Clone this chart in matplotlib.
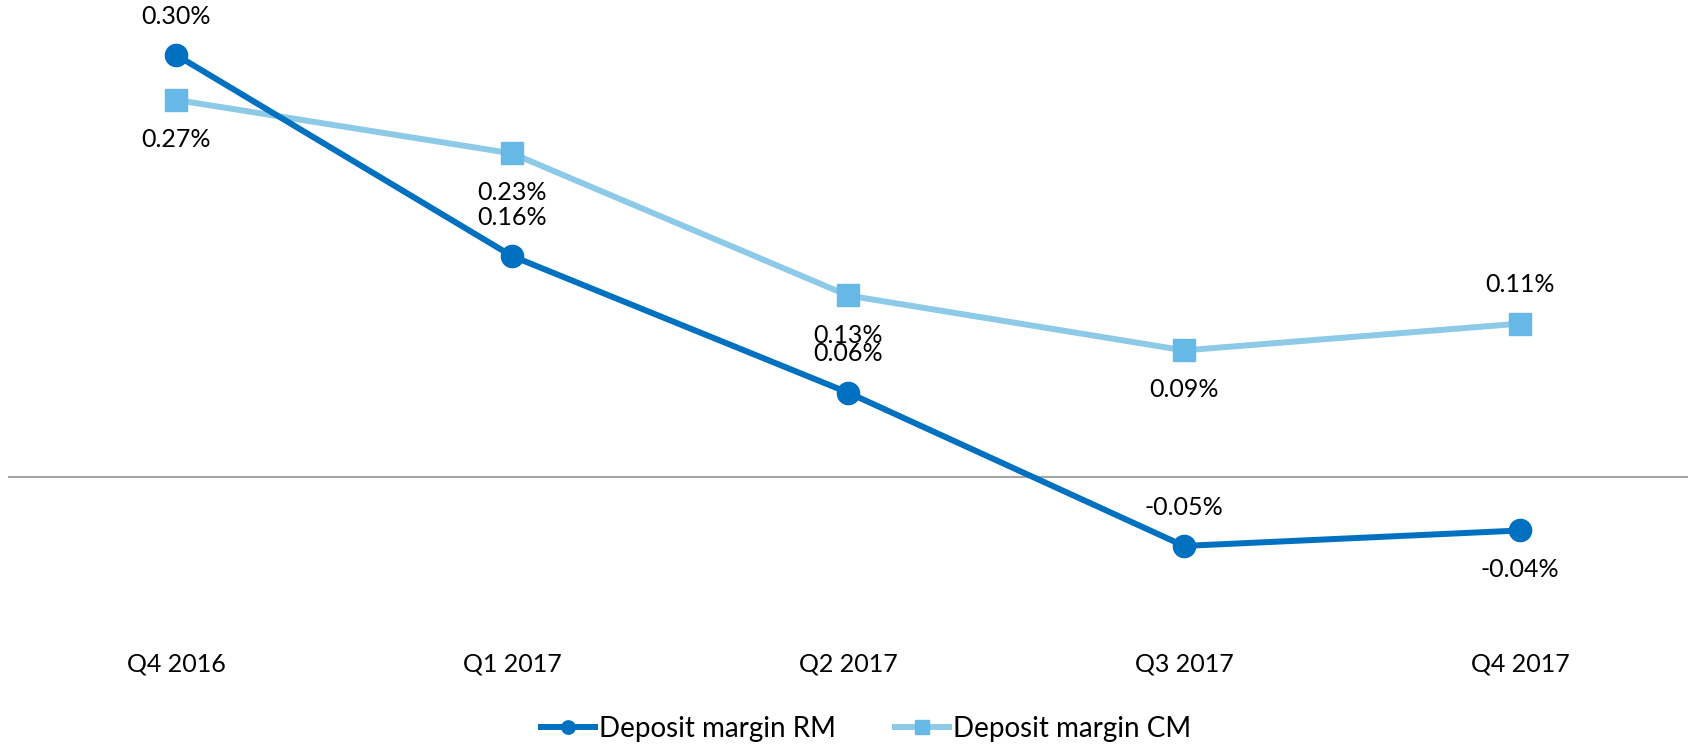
import numpy as np
import matplotlib.pyplot as plt

# deposit margins per quarter, in percent
quarters = ["Q4 2016", "Q1 2017", "Q2 2017", "Q3 2017", "Q4 2017"]
margin_rm = [0.300, 0.157, 0.060, -0.049, -0.038]
margin_cm = [0.268, 0.230, 0.129, 0.090, 0.109]

# which side the value labels sit on (+1 above, -1 below)
side_rm = [1, 1, 1, 1, -1]
side_cm = [-1, -1, -1, -1, 1]

plt.rcParams['font.family'] = ['Lato', 'DejaVu Sans']

fig = plt.figure(figsize=(16.89, 7.45), dpi=100)
ax = fig.add_axes([8 / 1689, 145 / 745, 1680 / 1689, 600 / 745])

x = np.arange(len(quarters))
ax.plot(x, margin_rm, color="#0070C0", lw=4.3, marker="o", markersize=16,
        label="Deposit margin RM", zorder=3)
ax.plot(x, margin_cm, color="#8CCAE8", lw=4.3, marker="s", markersize=16,
        markerfacecolor="#66B8E6", markeredgecolor="#66B8E6",
        label="Deposit margin CM", zorder=2)

for xi, v, s in zip(x, margin_rm, side_rm):
    ax.annotate(f"{v:.2f}%", (xi, v), xytext=(0, 28 * s), textcoords="offset points",
                ha="center", va="center", fontsize=18, color="black")
for xi, v, s in zip(x, margin_cm, side_cm):
    ax.annotate(f"{v:.2f}%", (xi, v), xytext=(0, 28.5 * s), textcoords="offset points",
                ha="center", va="center", fontsize=18, color="black")

ax.axhline(0, color="#A6A6A6", lw=1.5, zorder=1)

ax.set_xlim(-0.5, 4.5)
ax.set_ylim((477 - 600) / 1407, 477 / 1407)
ax.set_xticks(x)
ax.set_xticklabels(quarters, fontsize=18)
ax.tick_params(axis="x", length=0, pad=38)
ax.set_yticks([])
for sp in ax.spines.values():
    sp.set_visible(False)

fig.legend(loc="center", bbox_to_anchor=(866 / 1689, 16 / 745), ncol=2, frameon=False,
           fontsize=20, handlelength=1.95, handletextpad=0.15, columnspacing=2.1,
           markerscale=0.6)

fig.savefig("out.png", dpi=100)
